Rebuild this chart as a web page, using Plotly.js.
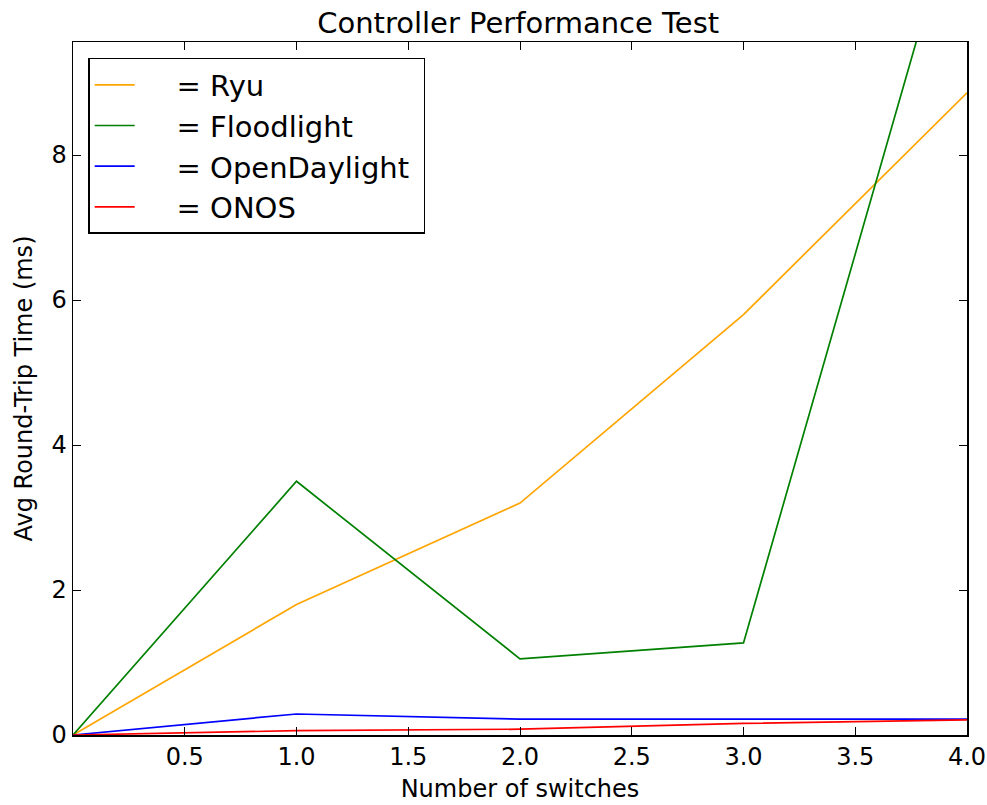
<!DOCTYPE html>
<html>
<head>
<meta charset="utf-8">
<script src="https://cdn.plot.ly/plotly-3.0.1.min.js"></script>
<style>
  html, body { margin: 0; padding: 0; background: #fff; }
  #chart { width: 987px; height: 805px; }
</style>
</head>
<body>
<div id="chart"></div>
<script>
// Numero de switches y tiempos medios (ms) por controlador
const switches = [0, 1, 2, 3, 4];
const ryu = [0, 1.8, 3.2, 5.8, 8.86];
const floodlight = [0, 3.5, 1.05, 1.27, 12.0];
const openDaylight = [0, 0.29, 0.22, 0.22, 0.22];
const onos = [0, 0.06, 0.08, 0.16, 0.21];

const xTicks = [0.5, 1.0, 1.5, 2.0, 2.5, 3.0, 3.5, 4.0];
const yTicks = [0, 2, 4, 6, 8];

const series = [
    { name: 'Ryu', y: ryu, color: '#FFA500' },
    { name: 'Floodlight', y: floodlight, color: '#008000' },
    { name: 'OpenDaylight', y: openDaylight, color: '#0000FF' },
    { name: 'ONOS', y: onos, color: '#FF0000' }
];

// espacios duros para separar la muestra de linea del texto
const nb = '\u00a0';
const data = series.map(s => ({
    x: switches,
    y: s.y,
    name: nb.repeat(4) + '= ' + s.name + nb,
    mode: 'lines',
    type: 'scatter',
    line: { color: s.color, width: 1.7 }
}));

const font = { family: 'DejaVu Sans, sans-serif', color: '#000' };

const axisBase = {
    showline: true,
    linecolor: '#000',
    linewidth: 1.5,
    mirror: 'allticks',
    ticks: 'inside',
    ticklen: 8,
    tickwidth: 1,
    tickcolor: '#000',
    showgrid: false,
    zeroline: false,
    tickfont: { size: 24, family: font.family, color: '#000' }
};

const layout = {
    width: 987,
    height: 805,
    margin: { l: 73, r: 20, t: 42, b: 70 },
    paper_bgcolor: '#fff',
    plot_bgcolor: '#fff',
    font: font,
    title: {
        text: 'Controller Performance Test',
        font: { size: 29, family: font.family, color: '#000' },
        x: 0.525,
        xanchor: 'center',
        y: 0.972,
        yanchor: 'middle'
    },
    xaxis: Object.assign({}, axisBase, {
        range: [0, 4],
        tickvals: xTicks,
        ticktext: xTicks.map(v => v.toFixed(1)),
        title: { text: 'Number of switches', font: { size: 24, family: font.family }, standoff: 10 }
    }),
    yaxis: Object.assign({}, axisBase, {
        range: [0, 9.56],
        tickvals: yTicks,
        title: { text: 'Avg Round-Trip Time (ms)', font: { size: 24, family: font.family }, standoff: 12 }
    }),
    showlegend: true,
    legend: {
        x: 0.017,
        y: 0.977,
        xanchor: 'left',
        yanchor: 'top',
        bgcolor: '#fff',
        bordercolor: '#000',
        borderwidth: 1.5,
        font: { size: 29, family: font.family, color: '#000' },
        itemwidth: 40,
        tracegroupgap: 0
    }
};

Plotly.newPlot('chart', data, layout, { displayModeBar: false, staticPlot: true });
</script>
</body>
</html>
